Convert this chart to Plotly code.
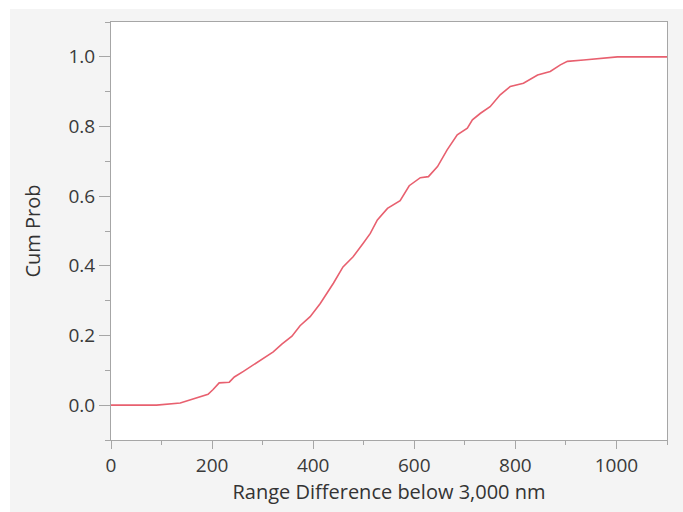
import plotly.graph_objects as go

range_diff = [0, 90, 137, 156, 176, 192, 202, 214, 234, 244, 262, 281, 301, 321, 338, 358,
              374, 394, 414, 440, 459, 479, 499, 513, 527, 547, 572, 590, 612, 628, 646,
              665, 685, 705, 715, 731, 750, 770, 790, 816, 844, 869, 889, 903, 935, 968,
              994, 1002, 1100]
cum_prob = [0.0, 0.0, 0.006, 0.014, 0.024, 0.031, 0.045, 0.064, 0.066, 0.081, 0.097, 0.115,
            0.134, 0.153, 0.175, 0.198, 0.228, 0.254, 0.292, 0.35, 0.397, 0.426, 0.465,
            0.493, 0.532, 0.565, 0.587, 0.63, 0.653, 0.656, 0.685, 0.733, 0.776, 0.795,
            0.819, 0.838, 0.857, 0.891, 0.915, 0.924, 0.948, 0.958, 0.977, 0.987, 0.991,
            0.996, 0.999, 1.0, 1.0]

x_ticks = [0, 200, 400, 600, 800, 1000]
y_ticks = [0.0, 0.2, 0.4, 0.6, 0.8, 1.0]
y_tick_text = ["0.0", "0.2", "0.4", "0.6", "0.8", "1.0"]

fig = go.Figure()
fig.add_trace(go.Scatter(x=range_diff, y=cum_prob, mode="lines",
                         line=dict(color="#e8606f", width=1.6), showlegend=False))

axis_common = dict(
    showgrid=False, zeroline=False, showline=True, linecolor="#a6a6a6", linewidth=1,
    mirror=True, ticks="outside", tickcolor="#a6a6a6", tickwidth=1,
    tickfont=dict(family="Open Sans", size=19, color="#3a3a3a"),
)

fig.update_xaxes(range=[0, 1100], tickvals=x_ticks, ticklen=8,
                 minor=dict(dtick=100, tick0=0, ticklen=4, ticks="outside", tickcolor="#a6a6a6"),
                 title=dict(text="Range Difference below 3,000 nm",
                            font=dict(family="Open Sans", size=20, color="#333333"), standoff=2),
                 **axis_common)
fig.update_yaxes(range=[-0.1, 1.1], tickvals=y_ticks, ticktext=y_tick_text, ticklen=11,
                 minor=dict(dtick=0.1, tick0=0, ticklen=5, ticks="outside", tickcolor="#a6a6a6"),
                 title=dict(text="Cum Prob",
                            font=dict(family="Open Sans", size=20, color="#333333"), standoff=22),
                 **axis_common)

fig.update_layout(
    width=683, height=512,
    margin=dict(l=111, r=16, t=22, b=72),
    paper_bgcolor="#f4f4f4", plot_bgcolor="#ffffff",
    shapes=[
        dict(type="rect", xref="paper", yref="paper", x0=-111/556, x1=-101/556, y0=0 - 72/418, y1=1 + 22/418,
             fillcolor="#ffffff", line=dict(width=0), layer="above"),
        dict(type="rect", xref="paper", yref="paper", x0=-111/556, x1=1 + 16/556, y0=1 + 13/418, y1=1 + 22/418,
             fillcolor="#ffffff", line=dict(width=0), layer="above"),
    ],
)

fig.write_html("out.html")
